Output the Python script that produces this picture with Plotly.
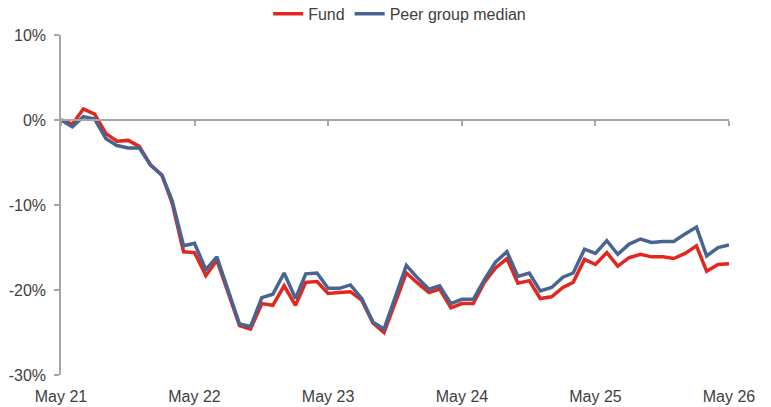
import pandas as pd
import plotly.graph_objects as go

dates = pd.date_range("2021-05-01", "2026-05-01", freq="MS")

fund = [0.0, -0.5, 1.3, 0.7, -1.6, -2.5, -2.4, -3.1, -5.3, -6.5,
        -9.8, -15.5, -15.6, -18.3, -16.5, -20.3, -24.2, -24.6, -21.6, -21.8,
        -19.5, -21.8, -19.1, -19.0, -20.4, -20.3, -20.2, -21.2, -23.9, -25.0,
        -21.5, -18.0, -19.2, -20.3, -19.9, -22.1, -21.6, -21.6, -19.1, -17.4,
        -16.3, -19.2, -18.9, -21.0, -20.8, -19.7, -19.1, -16.4, -17.0, -15.6,
        -17.2, -16.2, -15.8, -16.1, -16.1, -16.3, -15.7, -14.8, -17.8, -17.0,
        -16.9]

peer = [0.0, -0.8, 0.4, 0.1, -2.2, -3.0, -3.3, -3.3, -5.3, -6.5,
        -9.5, -14.8, -14.5, -17.6, -16.1, -20.0, -24.0, -24.3, -20.9, -20.5,
        -18.0, -21.0, -18.1, -18.0, -19.8, -19.8, -19.4, -21.0, -23.8, -24.6,
        -20.9, -17.1, -18.6, -19.9, -19.5, -21.6, -21.1, -21.1, -18.8, -16.7,
        -15.5, -18.4, -18.0, -20.1, -19.7, -18.5, -18.0, -15.2, -15.7, -14.2,
        -15.8, -14.6, -14.0, -14.4, -14.3, -14.3, -13.4, -12.6, -16.0, -15.0,
        -14.7]

series_names = ["Fund", "Peer group median"]
series_colors = ["#E2271F", "#4A6492"]

y_tickvals = [-30, -20, -10, 0, 10]
y_ticktext = ["-30%", "-20%", "-10%", "0%", "10%"]

FONT = "Liberation Sans, Arial, sans-serif"
TXT = "#404040"
AX = "#A6A6A6"

fig = go.Figure()
for name, vals, col in zip(series_names, [fund, peer], series_colors):
    fig.add_trace(go.Scatter(x=dates, y=vals, name=name, mode="lines",
                             line=dict(color=col, width=3.5)))

# invisible helper so the zero-line axis (with its tick marks) is drawn
fig.add_trace(go.Scatter(x=[dates[0], dates[-1]], y=[None, None], xaxis="x2",
                         showlegend=False, hoverinfo="skip", mode="lines"))

x_start, x_end = "2021-05-01", "2026-05-01"

fig.update_layout(
    width=771, height=407,
    margin=dict(l=61, r=42, t=35, b=32, autoexpand=False),
    paper_bgcolor="white", plot_bgcolor="white",
    font=dict(family=FONT, size=16, color=TXT),
    showlegend=True,
    legend=dict(orientation="h", x=0.507, xanchor="center", y=1.062, yanchor="middle",
                font=dict(size=16, color=TXT), tracegroupgap=0,
                bgcolor="rgba(0,0,0,0)"),
    xaxis=dict(type="date", range=[x_start, x_end], tick0=x_start, dtick="M12",
               tickformat="%b %y", showgrid=False, zeroline=False, showline=False,
               ticks="", ticklabelstandoff=10, automargin=False,
               tickfont=dict(size=16, color=TXT)),
    xaxis2=dict(type="date", range=[x_start, x_end], tick0=x_start, dtick="M12",
                overlaying="x", anchor="free", position=0.75, side="bottom",
                showline=True, linecolor=AX, linewidth=1.5, ticks="outside",
                ticklen=5, tickcolor=AX, tickwidth=1.5, showticklabels=False,
                showgrid=False, zeroline=False, automargin=False),
    yaxis=dict(range=[-30, 10], tickvals=y_tickvals, ticktext=y_ticktext,
               showgrid=False, zeroline=False, showline=True, linecolor=AX,
               linewidth=1.5, ticks="outside", ticklen=5, tickcolor=AX,
               tickwidth=1.5, ticklabelstandoff=5, automargin=False,
               tickfont=dict(size=16, color=TXT)),
)

fig.write_html("out.html", config={"displayModeBar": False},
               post_script="document.body.style.margin='0';document.body.style.overflow='hidden';")
